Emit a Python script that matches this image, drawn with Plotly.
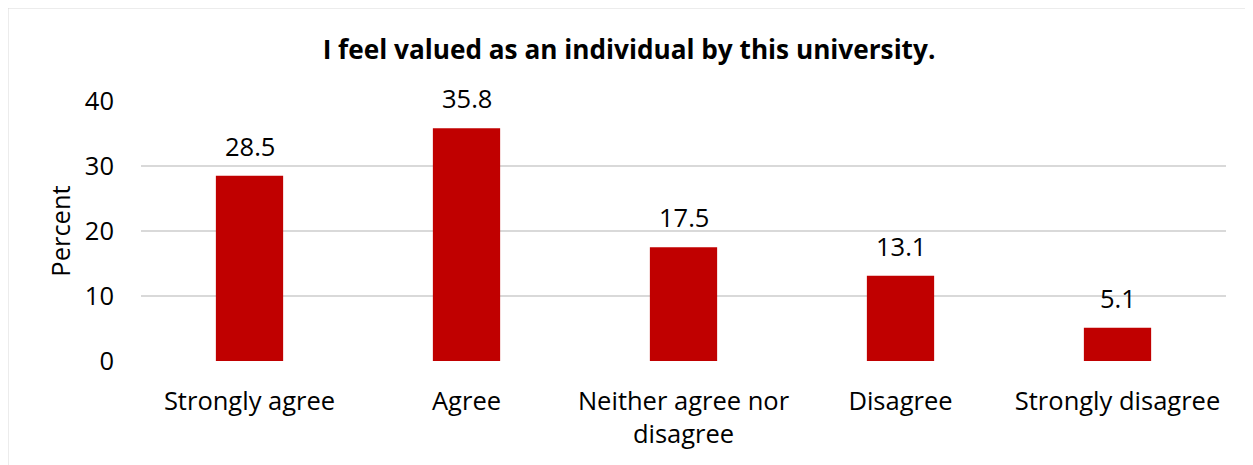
import plotly.graph_objects as go

categories = ["Strongly agree", "Agree", "Neither agree nor<br>disagree", "Disagree", "Strongly disagree"]
values = [28.5, 35.8, 17.5, 13.1, 5.1]
y_ticks = [0, 10, 20, 30, 40]
title_text = "<b>I feel valued as an individual by this university.</b>"
y_title = "Percent"

FONT = "Open Sans, Calibri, Carlito, sans-serif"
FS = 25.5
OFF = 8  # page body margin
W, H = 1253 - OFF, 465 - OFF
ml, mr, mt, mb = 141 - OFF, 27, 101 - OFF, 104
pw, ph = W - ml - mr, H - mt - mb

fig = go.Figure()
fig.add_trace(go.Bar(
    x=categories, y=values, marker=dict(color="#C00000", line=dict(width=0)),
    width=0.31,
))
for c, v in zip(categories, values):
    fig.add_annotation(x=c, y=v, text=f"{v:.1f}", showarrow=False,
                       yanchor="bottom", yshift=11,
                       font=dict(family=FONT, size=FS, color="#000000"))

fig.update_layout(
    width=W, height=H,
    margin=dict(l=ml, r=mr, t=mt, b=mb, autoexpand=False),
    paper_bgcolor="white", plot_bgcolor="white",
    showlegend=False,
    font=dict(family=FONT, size=FS, color="#000000"),
    title=dict(text=title_text, x=(629 - 141) / pw, xref="paper", xanchor="center",
               y=1 - (50 - OFF) / H, yanchor="middle",
               font=dict(family=FONT, size=26.2, color="#000000")),
    xaxis=dict(showgrid=False, showline=False, zeroline=False, ticks="",
               ticklabelstandoff=22, tickfont=dict(size=FS)),
    yaxis=dict(range=[0, 40], tickvals=y_ticks, showgrid=True, gridcolor="#D9D9D9",
               gridwidth=2, zeroline=False, showline=False, ticks="",
               ticklabelstandoff=26, tickfont=dict(size=FS),
               title=dict(text=y_title, standoff=6, font=dict(size=FS))),
    shapes=[dict(type="rect", xref="paper", yref="paper",
                 x0=(7.5 - 141) / pw, x1=(1263 - 141) / pw,
                 y0=-(480 - 361) / ph, y1=(361 - 7.5) / ph,
                 line=dict(color="#D9D9D9", width=2), fillcolor="rgba(0,0,0,0)",
                 layer="below")],
)

fig.write_html("out.html")
